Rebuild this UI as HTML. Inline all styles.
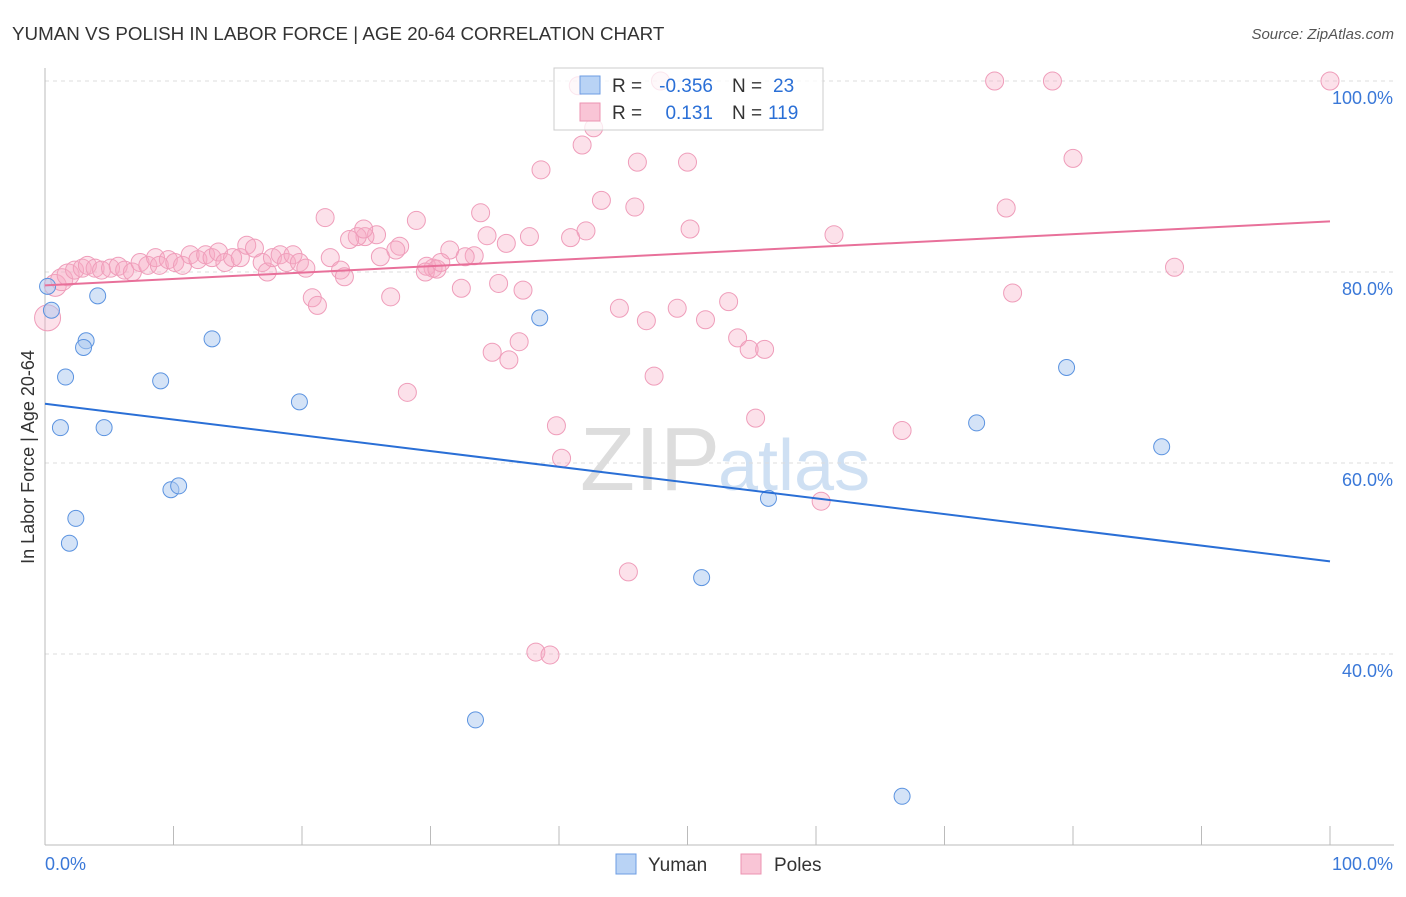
<!DOCTYPE html>
<html><head><meta charset="utf-8"><style>
body{margin:0;background:#fff;font-family:"Liberation Sans",sans-serif}
svg text{font-family:"Liberation Sans",sans-serif}
</style></head><body>
<svg id="chart" width="1406" height="892">
<text x="12" y="40" font-size="18.8" fill="#333">YUMAN VS POLISH IN LABOR FORCE | AGE 20-64 CORRELATION CHART</text>
<text x="1394" y="39" font-size="15" fill="#555" text-anchor="end" font-style="italic">Source: ZipAtlas.com</text>
<text transform="translate(34,457) rotate(-90)" font-size="18" fill="#333" text-anchor="middle">In Labor Force | Age 20-64</text>
<text x="720" y="490" font-size="90" fill="#ddd" text-anchor="end" font-family="Liberation Serif">ZIP</text>
<text x="718" y="490" font-size="72" fill="#cfe0f3">atlas</text>
<g id="grid"></g><g id="marks"></g>
<g>
<rect x="554" y="68" width="269" height="62" fill="rgba(255,255,255,0.75)" stroke="#ccc"/>
<rect x="580" y="76" width="20" height="18" fill="#b9d3f5" stroke="#6d9de3"/>
<rect x="580" y="103" width="20" height="18" fill="#f9c5d6" stroke="#ec93b1"/>
<text x="612" y="92" font-size="19" fill="#333">R =</text><text x="713" y="92" font-size="19" fill="#2a6fd6" text-anchor="end">-0.356</text>
<text x="732" y="92" font-size="19" fill="#333">N =</text><text x="773" y="92" font-size="19" fill="#2a6fd6">23</text>
<text x="612" y="119" font-size="19" fill="#333">R =</text><text x="713" y="119" font-size="19" fill="#2a6fd6" text-anchor="end">0.131</text>
<text x="732" y="119" font-size="19" fill="#333">N =</text><text x="768" y="119" font-size="19" fill="#2a6fd6">119</text>
</g>
<g>
<rect x="616" y="854" width="20" height="20" fill="#b9d3f5" stroke="#6d9de3"/>
<text x="648" y="871" font-size="19" fill="#333">Yuman</text>
<rect x="741" y="854" width="20" height="20" fill="#f9c5d6" stroke="#ec93b1"/>
<text x="774" y="871" font-size="19" fill="#333">Poles</text>
</g>
</svg>
<script>
const yTicks=[40,60,80,100];
const yTickLabels=["40.0%","60.0%","80.0%","100.0%"];
const xTickLabels=["0.0%","100.0%"];
const yumanX=[0.5,4.1,3.2,3.0,1.6,1.2,4.6,2.4,1.9,9.0,13.0,19.8,9.8,10.4,38.5,33.5,51.1,56.3,66.7,72.5,79.5,86.9,0.2];
const yumanY=[76.0,77.5,72.8,72.1,69.0,63.7,63.7,54.2,51.6,68.6,73.0,66.4,57.2,57.6,75.2,33.1,48.0,56.3,25.1,64.2,70.0,61.7,78.5];
const polesX=[41.5,47.9,73.9,78.4,100,42.7,41.8,46.1,50.0,80.0,38.6,43.3,45.9,74.8,21.8,28.9,33.9,50.2,61.4,42.1,40.9,37.7,35.9,34.4,31.5,33.4,32.7,27.6,27.3,26.1,25.8,24.9,24.3,24.8,23.7,22.2,23.0,23.3,20.8,21.2,26.9,28.2,30.2,29.7,29.6,30.5,30.8,32.4,35.3,37.2,34.8,36.1,36.9,39.8,40.2,44.7,46.8,49.2,51.4,53.2,53.9,54.8,56.0,47.4,55.3,45.4,38.2,39.3,60.4,66.7,75.3,87.9,
0.2,0.8,1.3,1.8,2.3,2.9,3.3,3.9,4.4,5.1,5.7,6.2,6.8,7.4,8.0,8.6,8.9,9.6,10.1,10.7,11.3,11.9,12.5,13.0,13.5,14.0,14.6,15.2,15.7,16.3,16.9,17.3,17.7,18.3,18.8,19.3,19.8,20.3];
const polesY=[99.5,100,100,100,100,95.1,93.3,91.5,91.5,91.9,90.7,87.5,86.8,86.7,85.7,85.4,86.2,84.5,83.9,84.3,83.6,83.7,83.0,83.8,82.3,81.7,81.6,82.7,82.3,81.6,83.9,83.7,83.7,84.5,83.4,81.5,80.2,79.5,77.3,76.5,77.4,67.4,80.4,80.6,80.0,80.3,81.0,78.3,78.8,78.1,71.6,70.8,72.7,63.9,60.5,76.2,74.9,76.2,75.0,76.9,73.1,71.9,71.9,69.1,64.7,48.6,40.2,39.9,56.0,63.4,77.8,80.5,
75.2,78.6,79.2,79.7,80.2,80.4,80.7,80.4,80.2,80.4,80.6,80.2,80.0,81.0,80.7,81.5,80.7,81.3,81.0,80.7,81.8,81.3,81.8,81.5,82.1,81.0,81.5,81.5,82.8,82.5,81.0,80.0,81.5,81.8,81.0,81.8,81.0,80.4];
const yumanTrend=[66.2,49.7];
const polesTrend=[78.6,85.3];
const NS="http://www.w3.org/2000/svg";
const X=v=>45+v*12.85, Y=v=>81+(100-v)*9.55;
function mk(t,a,p){const e=document.createElementNS(NS,t);for(const k in a)e.setAttribute(k,a[k]);p.appendChild(e);return e;}
const grid=document.getElementById('grid'),marks=document.getElementById('marks');
yTicks.forEach((t,i)=>{
 const l=mk('line',{x1:45,x2:1394,y1:Y(t),y2:Y(t),stroke:'#ddd','stroke-dasharray':'4,4'},grid);
 
 
 const tx=mk('text',{x:1393,y:Y(t)+23,'font-size':18,fill:'#3a78d8','text-anchor':'end'},grid);tx.textContent=yTickLabels[i];
 
 
});
const ax=mk('line',{x1:45,x2:45,y1:68,y2:845,stroke:'#bbb'},grid);


const bx=mk('line',{x1:45,x2:1394,y1:845,y2:845,stroke:'#bbb'},grid);


for(let i=0;i<=10;i++){const tk=mk('line',{x1:X(i*10),x2:X(i*10),y1:826,y2:845,stroke:'#bbb'},grid);
 
 }
[[0,'start',45],[1,'end',1393]].forEach(([i,a,x])=>{const t=mk('text',{x:x,y:870,'font-size':18,fill:'#3a78d8','text-anchor':a},grid);t.textContent=xTickLabels[i];
 
 });
polesX.forEach((x,i)=>{const c=mk('circle',{cx:X(x),cy:Y(polesY[i]),r:(x<2?(i===72?13:11):9),fill:'rgba(245,170,195,0.35)',stroke:'#ef9dba','stroke-width':1},marks);
 
 });
yumanX.forEach((x,i)=>{const c=mk('circle',{cx:X(x),cy:Y(yumanY[i]),r:8,fill:'rgba(170,200,240,0.5)',stroke:'#5b93e0','stroke-width':1},marks);
 
 });
const bl=mk('line',{x1:X(0),y1:Y(yumanTrend[0]),x2:X(100),y2:Y(yumanTrend[1]),stroke:'#2a6fd6','stroke-width':2},marks);


const pl=mk('line',{x1:X(0),y1:Y(polesTrend[0]),x2:X(100),y2:Y(polesTrend[1]),stroke:'#e8709a','stroke-width':2},marks);


</script>
</body></html>
